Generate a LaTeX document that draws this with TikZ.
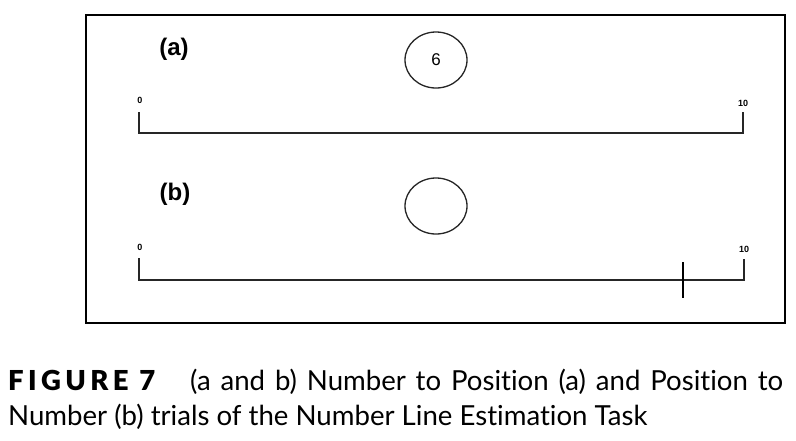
\documentclass[tikz,border=0pt]{standalone}
\usepackage{fontspec}
\setmainfont{Lato}[Ligatures=NoCommon]
\newfontfamily\arialfont{Liberation Sans}
\newfontfamily\figfont{Lato Black}[LetterSpace=16]
\tikzset{
  frameline/.style={line width=2pt, draw=black},
  numline/.style={line width=1.3pt, draw=black!85},
  probe/.style={draw=black!85, line width=1.3pt, ellipse, minimum width=62pt, minimum height=56pt, inner sep=0pt},
  panellabel/.style={font=\arialfont\bfseries\fontsize{24}{28}\selectfont, inner sep=0pt},
  endlabel/.style={font=\arialfont\bfseries\fontsize{9}{11}\selectfont, inner sep=0pt},
  captext/.style={font=\fontsize{27.6}{32}\selectfont, inner sep=0pt, anchor=base west},
}
\usetikzlibrary{shapes.geometric}
\begin{document}
\begin{tikzpicture}[x=1pt,y=-1pt]
\useasboundingbox (0,0) rectangle (796,440);
\fill[white] (0,0) rectangle (796,440);
% frame
\draw[frameline] (86,15) rectangle (785,323);
% panel (a)
\node[panellabel] (la) at (174,49) {(a)};
\node[probe] (ca) at (436,60) {\arialfont\fontsize{17}{20}\selectfont 6};
\node[endlabel] (a0) at (140,100) {0};
\node[endlabel] (a10) at (743,103) {10};
\coordinate (a0t) at (139,112);
\coordinate (a0b) at (139,133);
\coordinate (a10t) at (743,112);
\coordinate (a10b) at (743,133);
\draw[numline] (a0t) -- (a0b) -- (a10b) -- (a10t);
% panel (b)
\node[panellabel] (lb) at (175,194) {(b)};
\node[probe] (cb) at (436,206) {};
\node[endlabel] (b0) at (140,247) {0};
\node[endlabel] (b10) at (744,249) {10};
\coordinate (b0t) at (139,258);
\coordinate (b0b) at (139,280);
\coordinate (b10t) at (744,259);
\coordinate (b10b) at (744,280);
\draw[numline] (b0t) -- (b0b) -- (b10b) -- (b10t);
\coordinate (mt) at (683,262);
\coordinate (mb) at (683,298);
\draw[line width=2pt] (mt) -- (mb);
% caption
\node[captext, font=\figfont\fontsize{27.5}{30}\selectfont] (fig) at (8,390) {FIGURE 7};
\node[captext] (cap1) at (190,390) {\hbox to 593pt{(a and b) Number to Position (a) and Position to}};
\node[captext] (cap2) at (8,425) {Number (b) trials of the Number Line Estimation Task};
\end{tikzpicture}
\end{document}
